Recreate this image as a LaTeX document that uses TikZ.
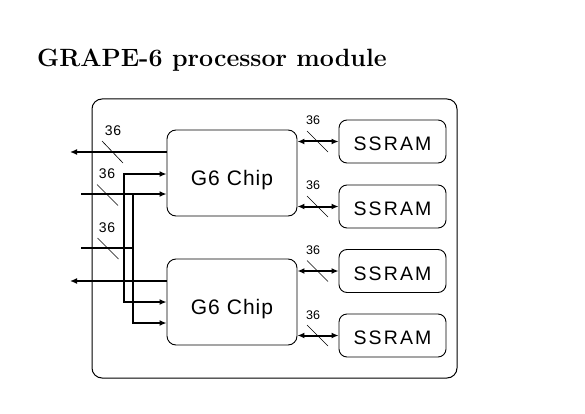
\documentclass[tikz,border=0pt]{standalone}
\usepackage{fontspec}
\newfontfamily\lsans{Liberation Sans}
\newfontfamily\lsansA[LetterSpace=5]{Liberation Sans}
\newfontfamily\lsansB[LetterSpace=11]{Liberation Sans}
\newfontfamily\lsansC[LetterSpace=6]{Liberation Sans}
\usetikzlibrary{arrows.meta}
\tikzset{
  frame/.style={draw, line width=1pt, rounded corners=10pt, inner sep=0pt},
  chipbox/.style={draw, line width=0.9pt, rounded corners=9pt, minimum width=130pt, minimum height=86pt, inner sep=0pt, text height=24pt, text depth=0pt, font=\lsansA\fontsize{21}{25}\selectfont},
  rambox/.style={draw, line width=0.9pt, rounded corners=8pt, minimum width=107pt, minimum height=43pt, inner sep=0pt, text height=18.5pt, text depth=0pt, font=\lsansB\fontsize{19.5}{22}\selectfont},
  wire/.style={line width=2pt},
  bus/.style={line width=2pt, -{Latex[length=7pt,width=6pt]}},
  bibus/.style={line width=2pt, {Latex[length=7pt,width=6pt]}-{Latex[length=7pt,width=6pt]}},
  lbl/.style={font=\lsansC\fontsize{14}{15}\selectfont, inner sep=0pt},
  lblr/.style={font=\lsans\fontsize{12.5}{14}\selectfont, inner sep=0pt},
  slash/.style={line width=0.6pt}
}
\begin{document}
\begin{tikzpicture}[x=1pt,y=-1pt]
\useasboundingbox (0,0) rectangle (585,414);
\node[anchor=base west, inner sep=0pt, font=\fontsize{25}{30}\selectfont\bfseries] (title) at (37,66.5) {GRAPE-6 processor module};
\node[frame, minimum width=365pt, minimum height=279pt] (module) at (274.5,238.5) {};
\node[chipbox] (chip1) at (232,173) {G6 Chip};
\node[chipbox] (chip2) at (232,302) {G6 Chip};
\node[rambox] (ram1) at (392.5,141.5) {SSRAM};
\node[rambox] (ram2) at (392.5,206.5) {SSRAM};
\node[rambox] (ram3) at (392.5,271) {SSRAM};
\node[rambox] (ram4) at (392.5,335.5) {SSRAM};
% memory buses
\draw[bibus] (chip1.east |- ram1) -- (ram1.west);
\draw[bibus] (chip1.east |- ram2) -- (ram2.west);
\draw[bibus] (chip2.east |- ram3) -- (ram3.west);
\draw[bibus] (chip2.east |- ram4) -- (ram4.west);
\foreach \y in {141.5,206.5,271,335.5} {\draw[slash] (317.5,\y) +(-10.5,-10.5) -- +(10.5,10.5);}
\node[lblr] (r1) at (313,120) {36};
\node[lblr] (r2) at (313,185) {36};
\node[lblr] (r3) at (313,250) {36};
\node[lblr] (r4) at (313,315) {36};
% left side
\coordinate (out1) at (70,152);
\coordinate (out2) at (70,281);
\coordinate (in1) at (81,194);
\coordinate (in2) at (81,248);
\coordinate (in2e) at (133,248);
\coordinate (ja) at (124,174);
\coordinate (jb) at (124,302);
\coordinate (jc) at (133,194);
\coordinate (jd) at (133,323);
\draw[bus] (chip1.west |- out1) -- (out1);
\draw[bus] (chip2.west |- out2) -- (out2);
\draw[bus] (in1) -- (chip1.west |- in1);
\draw[wire] (in2) -- (in2e);
\draw[bibus] (chip1.west |- ja) -- (ja) -- (jb) -- (chip2.west |- jb);
\draw[bus] (jc) -- (jd) -- (chip2.west |- jd);
\draw[slash] (112.5,152) +(-10.5,-11) -- +(10.5,11);
\draw[slash] (107.5,195) +(-10.5,-10.5) -- +(10.5,10.5);
\draw[slash] (108,248.5) +(-10.5,-10.5) -- +(10.5,10.5);
\node[lbl] (l1) at (113,131) {36};
\node[lbl] (l2) at (107,174) {36};
\node[lbl] (l3) at (107,228) {36};
\end{tikzpicture}
\end{document}
